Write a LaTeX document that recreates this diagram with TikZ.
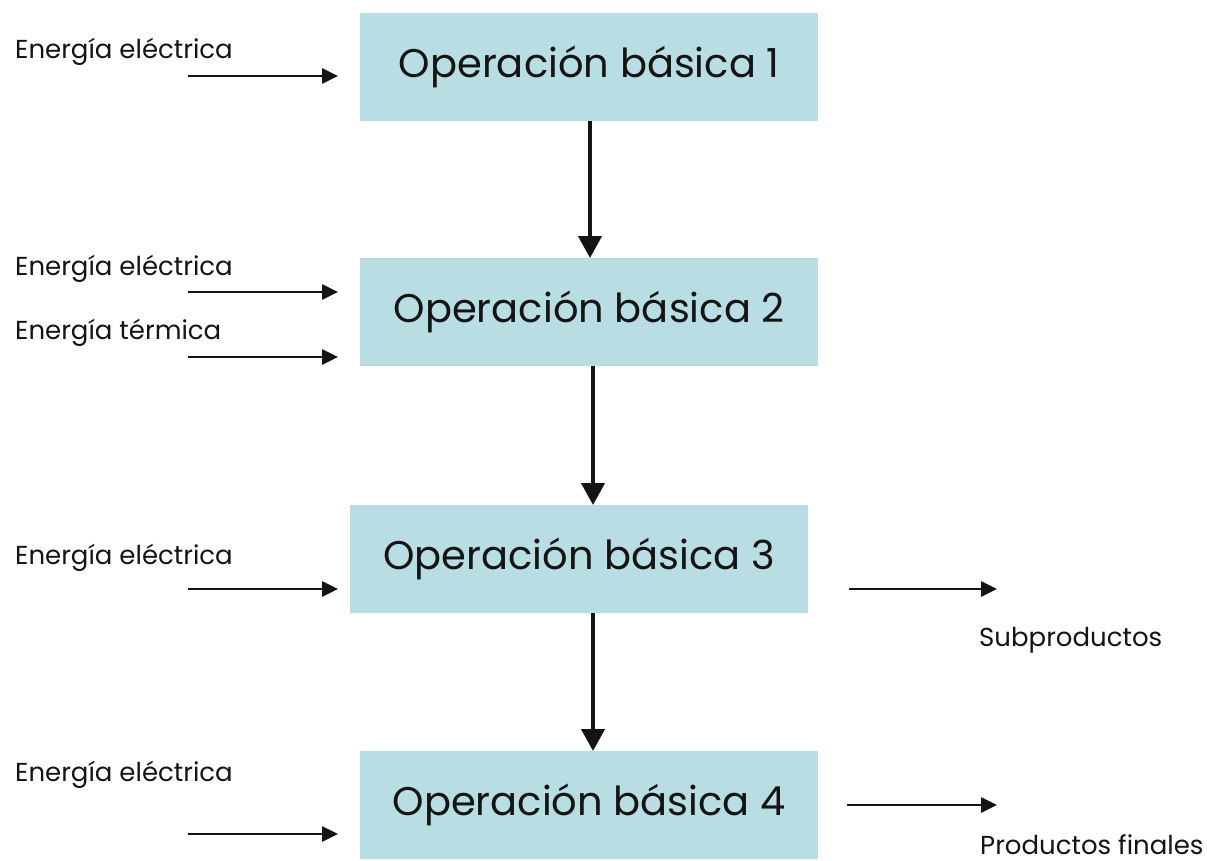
\documentclass[tikz,border=0pt]{standalone}
\usepackage{fontspec}
\setmainfont{Poppins}
\usetikzlibrary{arrows.meta}
\definecolor{boxfill}{RGB}{184,222,227}
\definecolor{ink}{RGB}{20,20,20}
\begin{document}
\begin{tikzpicture}[x=1pt,y=-1pt,
  opbox/.style={fill=boxfill, draw=none, inner sep=0pt, anchor=north west,
    minimum width=458pt, minimum height=108pt, text=ink,
    font=\fontsize{40}{46}\selectfont},
  lbl/.style={anchor=base west, inner sep=0pt, text=ink, font=\fontsize{26}{30}\selectfont},
  inarrow/.style={draw=ink, line width=2.6pt, -{Triangle[length=16pt,width=15pt]}},
  downarrow/.style={draw=ink, line width=4.2pt, -{Triangle[length=22pt,width=23pt]}}]
\useasboundingbox (0,0) rectangle (1207,861);
\fill[white] (0,0) rectangle (1207,861);
% boxes
\node[opbox] (b1) at (360,13) {\raisebox{-3pt}{Operación básica 1}};
\node[opbox] (b2) at (360,258) {\raisebox{-3pt}{Operación básica 2}};
\node[opbox] (b3) at (350,505) {\raisebox{-3pt}{Operación básica 3}};
\node[opbox] (b4) at (360,751) {\raisebox{-3pt}{Operación básica 4}};
% vertical connectors
\coordinate (xa) at (590,0);
\coordinate (xb) at (593,0);
\draw[downarrow] (b1.south -| xa) -- (b2.north -| xa);
\draw[downarrow] (b2.south -| xb) -- (b3.north -| xb);
\draw[downarrow] (b3.south -| xb) -- (b4.north -| xb);
% inputs
\node[lbl] (l1) at (15,59) {Energía eléctrica};
\node[lbl] (l2) at (15,275) {Energía eléctrica};
\node[lbl] (l3) at (15,339) {Energía térmica};
\node[lbl] (l4) at (15,564) {Energía eléctrica};
\node[lbl] (l5) at (15,781) {Energía eléctrica};
\coordinate (s1) at (188,76);
\coordinate (s2) at (188,292);
\coordinate (s3) at (188,357);
\coordinate (s4) at (188,589);
\coordinate (s5) at (188,834);
\draw[inarrow, shorten >=22pt] (s1) -- (s1 -| b1.west);
\draw[inarrow, shorten >=22pt] (s2) -- (s2 -| b2.west);
\draw[inarrow, shorten >=22pt] (s3) -- (s3 -| b2.west);
\draw[inarrow, shorten >=12pt] (s4) -- (s4 -| b3.west);
\draw[inarrow, shorten >=22pt] (s5) -- (s5 -| b4.west);
% outputs
\coordinate (e3) at (997,589);
\coordinate (e4) at (997,805);
\draw[inarrow, shorten <=41pt] (e3 -| b3.east) -- (e3);
\draw[inarrow, shorten <=29pt] (e4 -| b4.east) -- (e4);
\node[lbl] (o3) at (979,646) {Subproductos};
\node[lbl] (o4) at (980,854) {Productos finales};
\end{tikzpicture}
\end{document}
